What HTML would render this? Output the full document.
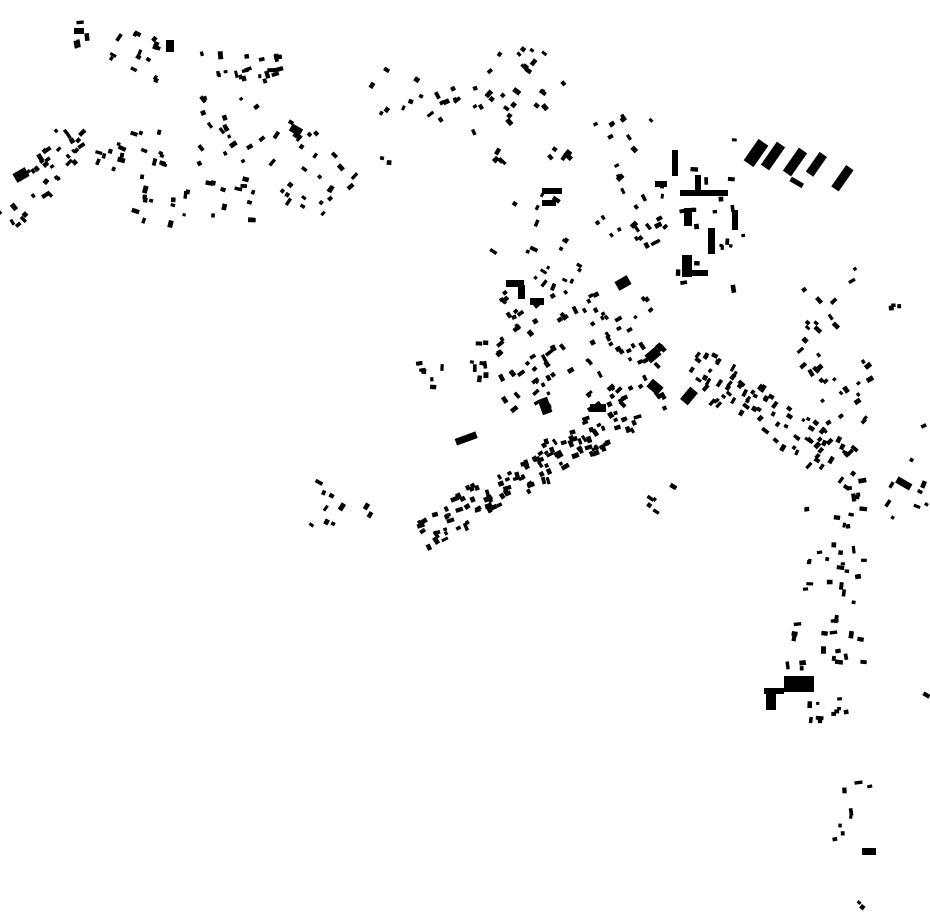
<!DOCTYPE html>
<html><head><meta charset="utf-8"><style>
html,body{margin:0;padding:0;background:#fff;}
svg{display:block;}
</style></head><body>
<svg id="s" width="930" height="924" viewBox="0 0 930 924" xmlns="http://www.w3.org/2000/svg">
<g fill="#000">
<rect x="750" y="140" width="12" height="26" transform="rotate(35 756 153)"/>
<rect x="768" y="142" width="10" height="28" transform="rotate(35 773 156)"/>
<rect x="790" y="148" width="10" height="28" transform="rotate(35 795 162)"/>
<rect x="812" y="152" width="9" height="24" transform="rotate(35 816 164)"/>
<rect x="838" y="165" width="9" height="26" transform="rotate(35 842 178)"/>
<rect x="790" y="180" width="14" height="5" transform="rotate(30 797 182)"/>
<rect x="680" y="190" width="48" height="6"/>
<rect x="672" y="150" width="6" height="26"/>
<rect x="655" y="181" width="12" height="6"/>
<rect x="695" y="175" width="6" height="18"/>
<rect x="684" y="208" width="8" height="18"/>
<rect x="708" y="228" width="7" height="26"/>
<rect x="732" y="210" width="6" height="20"/>
<rect x="682" y="255" width="10" height="22"/>
<rect x="690" y="270" width="18" height="6"/>
<rect x="542" y="188" width="20" height="6"/>
<rect x="542" y="200" width="14" height="6"/>
<rect x="506" y="280" width="18" height="7"/>
<rect x="518" y="285" width="7" height="14"/>
<rect x="530" y="298" width="14" height="7"/>
<rect x="540" y="398" width="10" height="16" transform="rotate(-20 545 406)"/>
<rect x="590" y="404" width="16" height="8"/>
<rect x="455" y="435" width="22" height="7" transform="rotate(-20 466 438)"/>
<rect x="784" y="676" width="30" height="16"/>
<rect x="766" y="688" width="10" height="22"/>
<rect x="764" y="688" width="20" height="6"/>
<rect x="862" y="848" width="14" height="7"/>
<rect x="896" y="480" width="16" height="7" transform="rotate(30 904 483)"/>
<rect x="290" y="126" width="12" height="8" transform="rotate(30 296 130)"/>
<rect x="616" y="278" width="14" height="10" transform="rotate(-30 623 283)"/>
<rect x="646" y="350" width="14" height="10" transform="rotate(-40 653 355)"/>
<rect x="648" y="382" width="14" height="10" transform="rotate(40 655 387)"/>
<rect x="684" y="388" width="10" height="16" transform="rotate(40 689 396)"/>
<rect x="166" y="40" width="8" height="12"/>
<rect x="74" y="28" width="10" height="6"/>
<rect x="14" y="170" width="14" height="10" transform="rotate(-30 21 175)"/>
</g>
<g id="g" fill="#000"></g>
</svg>
<script>
var seed=12345;function r(){seed=(seed*16807)%2147483647;return (seed-1)/2147483646;}
var C=[
[72,16,16,30,4,0],[102,30,55,55,14,-60],[192,48,92,32,22,-10],
[198,92,68,72,18,60],[95,128,68,40,18,20],
[132,172,122,50,24,10],[268,122,86,96,26,-50],[360,66,62,48,8,30],[376,152,12,10,2,0],
[432,82,50,60,12,60],[488,44,90,118,32,40],[592,112,80,130,30,55],[654,135,90,165,22,0],
[488,188,95,95,20,30],[495,290,170,120,100,-35],[414,358,28,28,6,0],[458,338,30,40,8,0],
[796,360,70,70,20,-40],[308,478,75,50,10,30],
[638,478,34,40,5,-55],[782,280,50,75,12,-40],[852,266,10,20,2,60],[882,290,16,16,3,0],
[878,455,52,62,8,30],[920,418,10,10,1,60],[800,478,62,125,30,0],[784,612,82,55,18,0],
[802,695,50,25,10,0],[828,778,40,65,8,0],[844,890,18,16,2,40],[916,686,12,10,1,30]
];
// bands: x1,y1,x2,y2,width,count,angle
var B=[[415,535,630,410,36,120,-25],[685,355,855,470,40,85,35],[5,220,75,130,36,36,-40]];
var g=document.getElementById('g'),h='';
function add(x,y,a){var w=3+r()*5,hh=3+r()*2;if(r()<0.5){var t=w;w=hh;hh=t;}
a=a+(r()-0.5)*20;
h+='<rect x="'+x.toFixed(1)+'" y="'+y.toFixed(1)+'" width="'+w.toFixed(1)+'" height="'+hh.toFixed(1)+'" transform="rotate('+a.toFixed(0)+' '+x.toFixed(1)+' '+y.toFixed(1)+')"/>';}
C.forEach(function(c){for(var i=0;i<c[4];i++)add(c[0]+r()*c[2],c[1]+r()*c[3],c[5]);});
B.forEach(function(b){var dx=b[2]-b[0],dy=b[3]-b[1],L=Math.sqrt(dx*dx+dy*dy),nx=-dy/L,ny=dx/L;
for(var i=0;i<b[5];i++){var t=r(),o=(r()-0.5)*b[4];add(b[0]+dx*t+nx*o,b[1]+dy*t+ny*o,b[6]);}});
g.innerHTML=h;
</script>
</body></html>
